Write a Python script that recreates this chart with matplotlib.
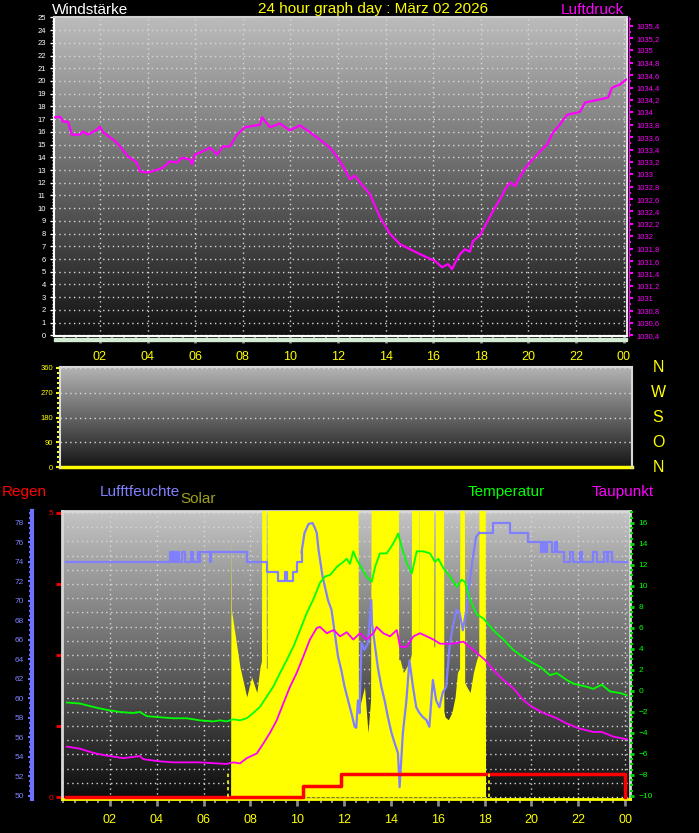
import matplotlib
matplotlib.use("Agg")
import matplotlib.pyplot as plt
import matplotlib.transforms as mtransforms
import numpy as np
from matplotlib.colors import LinearSegmentedColormap
from matplotlib.ticker import MultipleLocator, FixedLocator, FuncFormatter

plt.rcParams['font.family'] = ['Liberation Sans', 'DejaVu Sans']

# ---- data ----
hour_ticks = [2, 4, 6, 8, 10, 12, 14, 16, 18, 20, 22, 24]
hour_labels = ['02', '04', '06', '08', '10', '12', '14', '16', '18', '20', '22', '00']

# air pressure (hPa)
p_hours = [0.11, 0.32, 0.45, 0.66, 0.82, 1.16, 1.29, 1.50, 1.87, 2.00, 2.13, 2.55, 2.71, 3.18, 3.55,
           3.68, 3.97, 4.23, 4.65, 4.94, 5.24, 5.45, 5.78, 5.87, 5.99, 6.20, 6.62, 6.92, 7.17, 7.46,
           7.76, 8.09, 8.72, 8.81, 9.14, 9.56, 9.98, 10.40, 10.82, 11.24, 11.66, 11.95, 12.08, 12.29, 12.50,
           12.71, 12.92, 13.34, 13.76, 14.18, 14.61, 15.03, 15.45, 16.08, 16.37, 16.62, 16.79, 16.96, 17.12, 17.33,
           17.54, 17.67, 17.97, 18.39, 18.60, 18.81, 19.02, 19.23, 19.44, 19.65, 19.94, 20.49, 20.78, 21.04, 21.25,
           21.62, 22.17, 22.38, 23.01, 23.35, 23.51, 23.85, 24.10]
p_hpa = [1033.92, 1033.93, 1033.85, 1033.85, 1033.64, 1033.64, 1033.69, 1033.64, 1033.72, 1033.77,
         1033.68, 1033.56, 1033.51, 1033.29, 1033.19, 1033.05, 1033.03, 1033.05, 1033.11, 1033.21,
         1033.19, 1033.27, 1033.24, 1033.16, 1033.32, 1033.35, 1033.43, 1033.32, 1033.45, 1033.45,
         1033.64, 1033.76, 1033.80, 1033.92, 1033.76, 1033.82, 1033.71, 1033.79, 1033.68, 1033.56,
         1033.43, 1033.29, 1033.21, 1033.08, 1032.92, 1032.98, 1032.87, 1032.68, 1032.31, 1032.04,
         1031.87, 1031.79, 1031.71, 1031.60, 1031.50, 1031.55, 1031.47, 1031.60, 1031.71, 1031.79,
         1031.75, 1031.92, 1032.02, 1032.32, 1032.47, 1032.60, 1032.76, 1032.87, 1032.81, 1032.97,
         1033.14, 1033.37, 1033.48, 1033.68, 1033.77, 1033.96, 1034.01, 1034.16, 1034.21, 1034.24,
         1034.40, 1034.45, 1034.53]

# wind direction (deg) - calm all day
dir_hours = [0.07, 24.14]
dir_deg = [0, 0]
compass_letters = ['N', 'W', 'S', 'O', 'N']
compass_deg = [360, 270, 180, 90, 0]

# humidity (%): whole-percent steps early and late, smooth in between
hum_hours = [0.12, 4.56, 4.64, 4.70, 4.77, 4.86, 4.95, 5.07, 5.20, 5.45, 5.54, 5.75, 5.80, 5.85, 6.26,
             6.32, 7.85, 8.70, 9.16, 9.46, 9.55, 9.80, 10.00, 10.18, 10.31, 10.48, 10.65, 10.75, 10.83,
             10.91, 11.08, 11.31, 11.46, 11.60, 11.74, 11.88, 12.02, 12.17, 12.31, 12.45, 12.52, 12.59,
             12.66, 12.74, 12.87, 13.02, 13.16, 13.19, 13.30, 13.44, 13.59, 13.73, 13.87, 14.02, 14.16,
             14.30, 14.37, 14.44, 14.51, 14.66, 14.79, 14.94, 15.08, 15.22, 15.36, 15.51, 15.64, 15.79,
             15.93, 16.07, 16.21, 16.36, 16.50, 16.64, 16.79, 16.93, 17.07, 17.22, 17.35, 17.50, 17.64,
             17.78, 18.37, 19.08, 19.86, 20.43, 20.50, 20.58, 20.65, 20.86, 21.01, 21.08, 21.37, 21.65,
             21.77, 22.08, 22.17, 22.65, 22.82, 23.08, 23.22, 23.29, 23.43, 24.07]
hum_pct = [74, 75, 74, 75, 74, 75, 74, 75, 74, 75, 74, 75, 74, 75, 74,
           75, 74, 73, 72, 73, 72, 73, 74, 75, 77.0, 77.9, 78.0, 77.5, 77.0,
           75.2, 72.5, 70.1, 69.1, 66.7, 64.3, 62.9, 61.2, 59.8, 58.5, 57.1, 57.0, 59.8,
           58.5, 65.7, 65.0, 65.7, 70.1, 67.7, 65.7, 63.2, 61.2, 59.8, 58.1, 56.5, 55.4,
           54.4, 50.9, 53.7, 56.5, 59.8, 63.9, 61.2, 59.1, 58.5, 58.1, 57.8, 57.1, 61.9,
           59.8, 59.1, 60.6, 61.2, 65.3, 67.3, 69.1, 68.8, 67.0, 69.1, 71.8, 74.5, 76.6,
           77, 78, 77, 76, 75, 76, 75, 76, 75, 76, 75, 74, 75,
           74, 75, 74, 75, 74, 75, 74, 75, 74, 74]

# temperature (C)
temp_hours = [0.15, 0.72, 1.43, 1.86, 2.43, 2.98, 3.28, 3.57, 4.11, 4.70, 5.28, 5.84, 6.41, 6.70, 6.98,
              7.27, 7.55, 7.84, 8.12, 8.41, 8.69, 8.97, 9.26, 9.55, 9.83, 10.12, 10.40, 10.68, 10.97, 11.18,
              11.40, 11.68, 11.97, 12.11, 12.25, 12.39, 12.54, 12.96, 13.18, 13.32, 13.53, 13.82, 14.10, 14.31,
              14.46, 14.67, 14.89, 15.10, 15.38, 15.67, 15.88, 16.02, 16.24, 16.52, 16.81, 17.02, 17.16, 17.38,
              17.66, 17.95, 18.37, 18.80, 19.23, 19.80, 20.37, 20.79, 21.08, 21.51, 21.79, 22.36, 22.64, 23.00,
              23.36, 23.79, 24.07]
temp_c = [-1.1, -1.2, -1.6, -1.8, -2.0, -2.1, -2.0, -2.4, -2.5, -2.6, -2.6, -2.8, -2.9, -2.8, -2.9,
          -2.7, -2.8, -2.6, -2.1, -1.5, -0.55, 0.4, 1.7, 2.95, 4.2, 5.8, 7.4, 8.7, 10.3, 10.9,
          11.05, 11.8, 12.3, 12.6, 12.1, 13.3, 12.5, 10.9, 10.4, 11.8, 13.1, 13.1, 14.05, 15.0,
          13.7, 12.2, 11.2, 13.3, 13.3, 13.1, 12.3, 12.6, 11.7, 10.9, 9.9, 10.6, 10.4, 8.7,
          7.3, 6.9, 5.8, 4.9, 3.9, 3.0, 2.3, 1.5, 1.7, 1.05, 0.7, 0.4, 0.2, 0.6,
          -0.05, -0.2, -0.4]

# dew point (C)
dew_hours = [0.15, 0.72, 1.29, 1.71, 2.57, 3.28, 3.42, 4.11, 4.70, 5.28, 5.84, 6.56, 6.98, 7.27, 7.55,
             7.84, 8.27, 8.55, 8.83, 9.12, 9.40, 9.69, 9.97, 10.26, 10.54, 10.83, 10.97, 11.26, 11.55,
             11.83, 12.11, 12.39, 12.68, 12.96, 13.25, 13.39, 13.67, 13.96, 14.25, 14.39, 14.67, 14.96,
             15.24, 15.53, 15.81, 16.10, 16.38, 16.66, 17.09, 17.52, 18.02, 18.37, 18.80, 19.23, 19.65,
             20.01, 20.51, 21.08, 21.51, 22.08, 22.64, 23.00, 23.50, 24.07]
dew_c = [-5.3, -5.5, -5.9, -6.1, -6.4, -6.2, -6.5, -6.7, -6.8, -6.8, -6.8, -6.9, -6.95, -6.8, -6.9,
         -6.4, -5.95, -5.0, -4.0, -2.8, -1.2, 0.4, 1.7, 3.3, 4.9, 6.0, 6.1, 5.5, 5.8,
         5.2, 5.6, 4.9, 5.5, 4.9, 5.5, 6.1, 5.5, 5.2, 5.8, 4.2, 4.2, 5.2,
         5.5, 5.2, 4.9, 4.5, 4.5, 4.5, 4.7, 3.9, 2.95, 2.0, 1.05, 0.25, -0.86,
         -1.5, -2.1, -2.6, -3.1, -3.6, -3.9, -3.9, -4.35, -4.6]

# solar radiation (W/m2), values above the scale run off the top
solar_hours = [0.0, 7.15, 7.17, 7.19, 7.23, 7.55, 7.84, 8.05, 8.27, 8.41, 8.47, 8.49, 8.66, 8.68, 8.71,
               8.73, 12.59, 12.61, 12.66, 12.87, 13.02, 13.13, 13.17, 14.31, 14.33, 14.39, 14.53, 14.67,
               14.81, 14.87, 14.89, 15.19, 15.21, 15.23, 15.81, 15.83, 15.87, 15.93, 16.24, 16.26, 16.31,
               16.45, 16.60, 16.74, 16.84, 16.93, 16.95, 17.13, 17.15, 17.24, 17.38, 17.52, 17.66, 17.75,
               17.77, 18.02, 18.04, 24.1]
solar_wm2 = [0, 0, 185, 130, 126, 91, 70, 84, 73, 91, 95, 300, 300, 90, 90,
             300, 300, 70, 63, 77, 45, 68, 300, 300, 96, 96, 87, 91,
             96, 100, 300, 300, 100, 300, 300, 105, 105, 300, 300, 60, 56,
             54, 59, 70, 87, 90, 300, 300, 80, 77, 73, 87, 96, 100,
             300, 300, 0, 0]

# rain (mm), cumulative
rain_hours = [0.12, 10.25, 11.85, 23.98]
rain_mm = [0, 0.2, 0.4, 0]
sun_hours = [7.03, 18.2]

# ---- figure ----
W, H = 699, 833
fig = plt.figure(figsize=(W / 100, H / 100), dpi=100, facecolor='black')
dotted = (0, (1, 2.5))
gridc = '#d8d8d8'


def box(l, t, r, b):
    return [l / W, 1 - b / H, (r - l) / W, (b - t) / H]


def shade(ax, top, bottom):
    cmap = LinearSegmentedColormap.from_list('bg', [bottom, top])
    ax.imshow(np.linspace(0, 1, 256).reshape(-1, 1), cmap=cmap, aspect='auto',
              extent=(0, 1, 0, 1), origin='lower', transform=ax.transAxes, zorder=0)


def hour_axis(ax):
    ax.set_xticks(hour_ticks, hour_labels)
    ax.xaxis.set_minor_locator(MultipleLocator(0.5))
    ax.tick_params(axis='x', which='major', colors='#8a8a8a', labelcolor='yellow',
                   labelsize=9, length=5, width=2, pad=6)
    ax.tick_params(axis='x', which='minor', colors='#8a8a8a', length=3, width=1.5)


def hide_spines(ax, keep=()):
    for name, sp in ax.spines.items():
        sp.set_visible(name in keep)


# -- panel 1: pressure --
ax1 = fig.add_axes(box(54, 17, 627, 336))
shade(ax1, '#bcbcbc', '#121212')
ax1.set_xlim(0.07, 24.14)
ax1.set_ylim(-0.05, 25.03)
hour_axis(ax1)
ax1.yaxis.set_major_locator(MultipleLocator(1))
ax1.yaxis.set_minor_locator(MultipleLocator(0.25))
ax1.tick_params(axis='y', which='major', colors='white', labelsize=5.5, length=3, width=1, pad=3)
ax1.tick_params(axis='y', which='minor', colors='white', length=1.5, width=1)
ax1.grid(which='major', color=gridc, linestyle=dotted, linewidth=1)
for name, c in [('left', 'white'), ('bottom', 'white'), ('top', '#d0d0d0'), ('right', '#e0e0e0')]:
    ax1.spines[name].set_color(c)
    ax1.spines[name].set_linewidth(1.5)

ax1r = ax1.twinx()
ax1r.set_ylim(1030.39, 1035.54)
ax1r.plot(p_hours, p_hpa, color='#ff00ff', lw=1.6)
ax1r.yaxis.set_major_locator(MultipleLocator(0.2))
ax1r.yaxis.set_minor_locator(MultipleLocator(0.1))
ax1r.yaxis.set_major_formatter(FuncFormatter(
    lambda v, _: f"{v:.1f}".rstrip('0').rstrip('.').replace('.', ',')))
ax1r.tick_params(axis='y', which='major', colors='#ff00ff', labelsize=5.5, length=3, width=1.5, pad=2)
ax1r.tick_params(axis='y', which='minor', colors='#ff00ff', length=1.5, width=1.5)
hide_spines(ax1r, keep=('right',))
ax1r.spines['right'].set_color('#ff00ff')
ax1r.spines['right'].set_position(('outward', 1.5))
fig.patches.append(plt.Rectangle((54 / W, 1 - 341 / H), 573 / W, 3 / H,
                                 transform=fig.transFigure, color='#d4ecd4'))

fig.text(52 / W, 1 - 13.5 / H, 'Windstärke', color='white', fontsize=11, va='baseline')
fig.text(258 / W, 1 - 13.5 / H, '24 hour graph day : März 02 2026', color='yellow', fontsize=11, va='baseline')
fig.text(624 / W, 1 - 13.5 / H, 'Luftdruck', color='#ff00ff', fontsize=11, va='baseline', ha='right')

# -- panel 2: wind direction --
ax2 = fig.add_axes(box(60, 367, 632, 468))
shade(ax2, '#b4b4b4', '#141414')
ax2.set_xlim(0.07, 24.14)
ax2.set_ylim(-3.6, 363.6)
ax2.plot(dir_hours, dir_deg, color='yellow', lw=2.5, clip_on=False)
ax2.set_xticks([])
ax2.yaxis.set_major_locator(FixedLocator([0, 90, 180, 270, 360]))
ax2.yaxis.set_minor_locator(MultipleLocator(18))
ax2.tick_params(axis='y', which='major', colors='yellow', labelsize=5.5, length=3, width=1.5, pad=2)
ax2.tick_params(axis='y', which='minor', colors='yellow', length=2, width=1.5)
ax2.grid(axis='y', which='major', color=gridc, linestyle=dotted, linewidth=1)
for sp in ax2.spines.values():
    sp.set_color('#d8d8d8')
    sp.set_linewidth(1.5)
ax2.spines['bottom'].set_visible(False)
tr = mtransforms.blended_transform_factory(fig.transFigure, ax2.transData)
for deg, letter in zip(compass_deg, compass_letters):
    fig.text(658 / W, deg, letter, transform=tr, color='yellow', fontsize=11.5, ha='center', va='center')

# -- panel 3: rain, humidity, solar, temperature, dew point --
ax3 = fig.add_axes(box(62, 511, 630, 799))
shade(ax3, '#c4c4c4', '#0c0c0c')
ax3.set_xlim(-0.05, 24.21)
ax3.set_ylim(-0.035, 5.035)
hour_axis(ax3)
ax3.yaxis.set_major_locator(FixedLocator([0, 1.25, 2.5, 3.75, 5]))
ax3.set_yticklabels(['0', '', '', '', '5'])
ax3.yaxis.set_minor_locator(MultipleLocator(0.25))
ax3.tick_params(axis='y', which='major', colors='red', labelsize=6, length=4, width=2, pad=2)
ax3.tick_params(axis='y', which='minor', length=0)
ax3.grid(axis='y', which='both', color=gridc, linestyle=dotted, linewidth=1)
ax3.grid(axis='x', which='major', color=gridc, linestyle=dotted, linewidth=1)
for name, c in [('left', '#d8d8d8'), ('top', '#d8d8d8'), ('right', '#d8d8d8'), ('bottom', 'yellow')]:
    ax3.spines[name].set_color(c)
    ax3.spines[name].set_linewidth(2)

ax_s = ax3.twinx()
ax_s.set_ylim(-1.4, 200)
ax_s.fill_between(solar_hours, solar_wm2, 0, color='#ffff00', lw=0)
ax_s.set_axis_off()

ax_h = ax3.twinx()
ax_h.set_ylim(49.69, 79.23)
hh = np.array(hum_hours)
hv = np.array(hum_pct)
early = hh <= 10.18
mid = (hh >= 10.18) & (hh <= 17.78)
late = hh >= 17.78
ax_h.plot(hh[early], hv[early], color='#8080ff', lw=1.6, drawstyle='steps-post')
ax_h.plot(hh[mid], hv[mid], color='#8080ff', lw=1.6)
ax_h.plot(hh[late], hv[late], color='#8080ff', lw=1.6, drawstyle='steps-post')
ax_h.yaxis.tick_left()
hide_spines(ax_h, keep=('left',))
ax_h.spines['left'].set_position(('axes', (32 - 62) / 568))
ax_h.spines['left'].set_color('#7070ff')
ax_h.spines['left'].set_linewidth(3)
ax_h.yaxis.set_major_locator(MultipleLocator(2))
ax_h.yaxis.set_minor_locator(MultipleLocator(0.5))
ax_h.tick_params(axis='y', which='major', colors='#7070ff', labelcolor='#8080ff', labelsize=6,
                 length=3, width=1.5, pad=3)
ax_h.tick_params(axis='y', which='minor', colors='#7070ff', length=2, width=1.5)

ax_t = ax3.twinx()
ax_t.set_ylim(-10.29, 17.14)
ax_t.plot(temp_hours, temp_c, color='#00ff00', lw=1.3)
ax_t.plot(dew_hours, dew_c, color='#ff00ff', lw=1.3)
hide_spines(ax_t)
ax_t.yaxis.set_major_locator(MultipleLocator(2))
ax_t.yaxis.set_minor_locator(MultipleLocator(0.5))
ax_t.tick_params(axis='y', which='major', colors='#00e000', labelcolor='#00ff00', labelsize=6,
                 length=3, width=2, pad=3)
ax_t.tick_params(axis='y', which='minor', colors='#00e000', length=2, width=1.5)

ax_r = ax3.twinx()
ax_r.set_ylim(-0.035, 5.035)
ax_r.plot(rain_hours, rain_mm, color='red', lw=2.5, drawstyle='steps-post', clip_on=False)
for h in sun_hours:
    ax_r.plot([h, h], [0, 0.44], color='yellow', lw=1.2, ls=(0, (2, 2)))
ax_r.set_axis_off()

fig.text(2 / W, 1 - 496 / H, 'Regen', color='red', fontsize=11, va='baseline')
fig.text(100 / W, 1 - 496 / H, 'Lufftfeuchte', color='#8080ff', fontsize=11, va='baseline')
fig.text(180 / W, 1 - 503 / H, 'Solar', color='#a0a020', fontsize=11, va='baseline')
fig.text(468 / W, 1 - 496 / H, 'Temperatur', color='#00ff00', fontsize=11, va='baseline')
fig.text(592 / W, 1 - 496 / H, 'Taupunkt', color='#ff00ff', fontsize=11, va='baseline')

fig.savefig('out.png', dpi=100, facecolor='black')
